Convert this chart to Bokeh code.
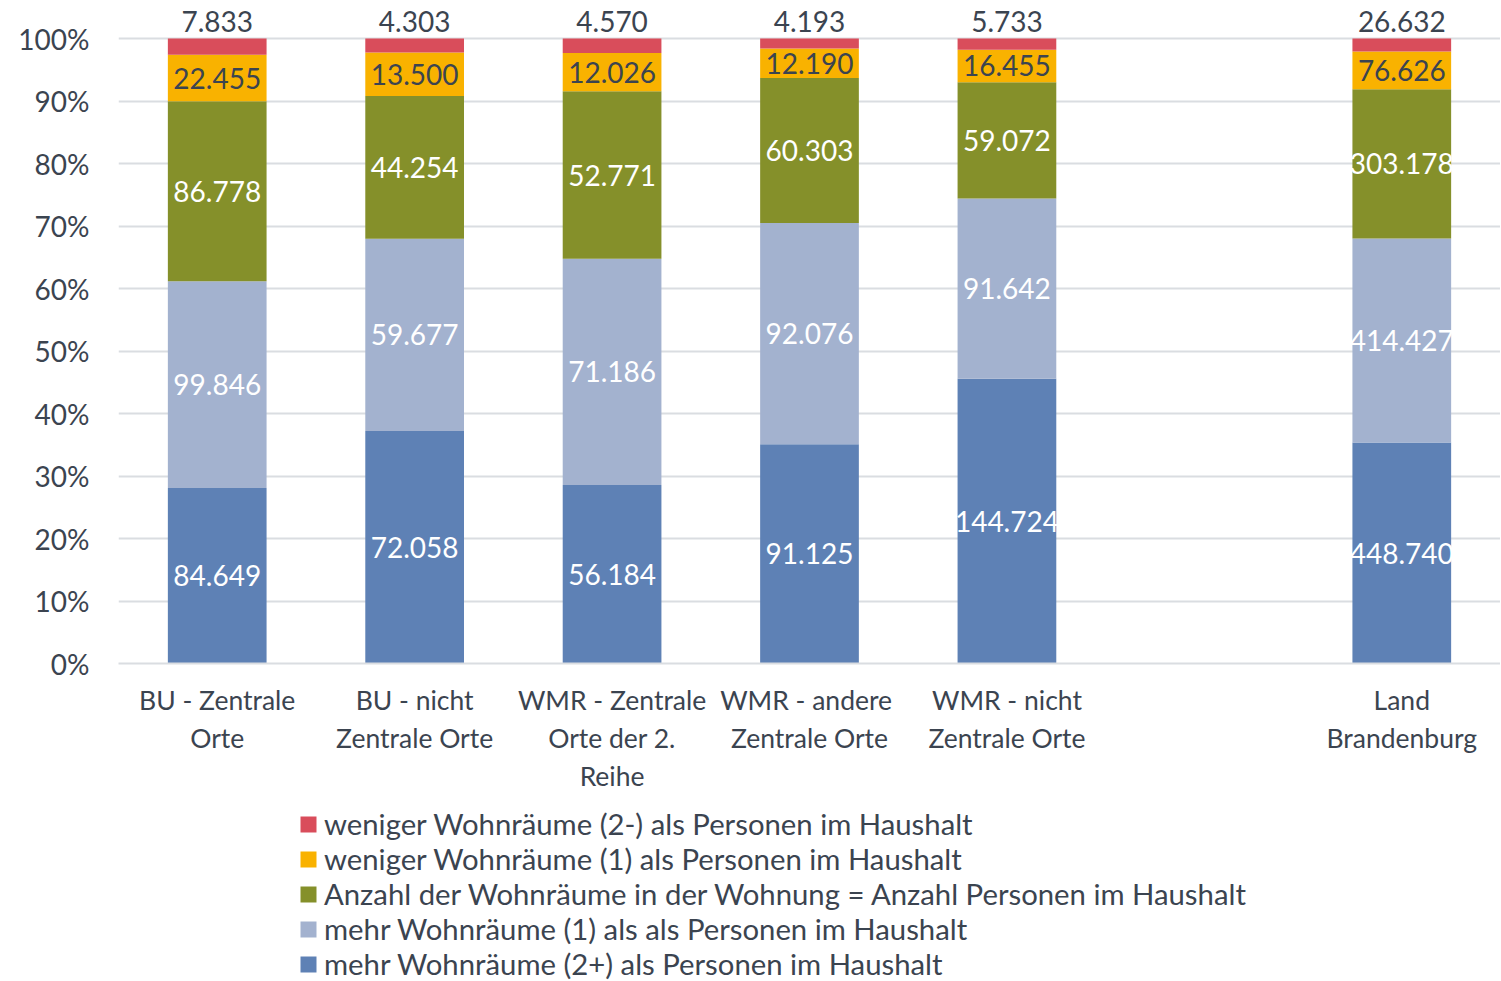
from bokeh.plotting import figure
from bokeh.layouts import column
from bokeh.models import (ColumnDataSource, Range1d, FactorRange, NumeralTickFormatter,
                          Legend, LegendItem, FixedTicker)
from bokeh.core.properties import value
from bokeh.embed import file_html
from bokeh.resources import INLINE

# ---- data ----
categories = ["BU - Zentrale\nOrte", "BU - nicht\nZentrale Orte",
              "WMR - Zentrale\nOrte der 2.\nReihe", "WMR  - andere\nZentrale Orte",
              "WMR - nicht\nZentrale Orte", "Land\nBrandenburg"]
slots = categories[:5] + [" "] + categories[5:]

mehr2 = [84649, 72058, 56184, 91125, 144724, 448740]
mehr1 = [99846, 59677, 71186, 92076, 91642, 414427]
gleich = [86778, 44254, 52771, 60303, 59072, 303178]
weniger1 = [22455, 13500, 12026, 12190, 16455, 76626]
weniger2 = [7833, 4303, 4570, 4193, 5733, 26632]

series_names = ["mehr Wohnräume (2+) als Personen im Haushalt",
                "mehr Wohnräume (1) als als Personen im Haushalt",
                "Anzahl der Wohnräume in der Wohnung = Anzahl Personen im Haushalt",
                "weniger Wohnräume (1) als Personen im Haushalt",
                "weniger Wohnräume (2-) als Personen im Haushalt"]
colors = ["#5E81B5", "#A3B2CF", "#85902A", "#F9B200", "#D94D5B"]
label_colors = ["white", "white", "white", "#3B4450", "#3B4450"]

FONT = "Lato"
TEXT = "#3B4450"
GRID = "#DADDE1"

series = [mehr2, mehr1, gleich, weniger1, weniger2]
totals = [sum(v) for v in zip(*series)]
keys = ["s0", "s1", "s2", "s3", "s4"]
data = {"cat": categories}
for k, s in zip(keys, series):
    data[k] = [v / t for v, t in zip(s, totals)]
src = ColumnDataSource(data)

def fmt(v):
    return f"{v:,}".replace(",", ".")

p = figure(x_range=FactorRange(factors=slots, range_padding=0, factor_padding=0),
           y_range=Range1d(0, 663 / 625), width=1500, height=806,
           output_backend="svg", toolbar_location=None,
           min_border_left=118, min_border_right=0, min_border_top=0, min_border_bottom=143)
p.outline_line_color = None
p.background_fill_color = "white"

renderers = p.vbar_stack(keys, x="cat", width=0.5, color=colors, line_color=None, source=src)

# segment labels
for i, (k, s) in enumerate(zip(keys, series)):
    xs, ys, txt = [], [], []
    for j, cat in enumerate(categories):
        below = sum(data[kk][j] for kk in keys[:i])
        share = data[k][j]
        xs.append(cat)
        if i == 4:
            ys.append(1.028)
        else:
            ys.append(below + share / 2)
        txt.append(fmt(s[j]))
    p.text(x=xs, y=ys, text=txt, text_align="center", text_baseline="middle",
           text_color=label_colors[i], text_font=value(FONT), text_font_size="28px")

# axes
p.yaxis.ticker = FixedTicker(ticks=[i / 10 for i in range(11)])
p.yaxis.formatter = NumeralTickFormatter(format="0%")
p.yaxis.axis_line_color = None
p.yaxis.major_tick_line_color = None
p.yaxis.minor_tick_line_color = None
p.yaxis.major_label_text_font = FONT
p.yaxis.major_label_text_font_size = "28px"
p.yaxis.major_label_text_color = TEXT
p.yaxis.major_label_standoff = 23

p.xaxis.axis_line_color = GRID
p.xaxis.axis_line_width = 2
p.xaxis.major_tick_line_color = None
p.xaxis.minor_tick_line_color = None
p.xaxis.major_label_text_font = FONT
p.xaxis.major_label_text_font_size = "26.5px"
p.xaxis.major_label_text_color = TEXT
p.xaxis.major_label_standoff = 14

p.xgrid.grid_line_color = None
p.ygrid.grid_line_color = GRID
p.ygrid.grid_line_width = 2

# legend in a strip below the chart (frames are aligned by the column layout)
lg = figure(width=1500, height=175, x_range=Range1d(0, 1), y_range=Range1d(0, 1),
            output_backend="svg", toolbar_location=None,
            min_border_left=0, min_border_right=0, min_border_top=0, min_border_bottom=0)
lg.axis.visible = False
lg.grid.visible = False
lg.outline_line_color = None
swatches = [lg.vbar(x=[0.5], top=[0], bottom=[0], width=0.01, fill_color=c, line_color=None)
            for c in colors]
items = [LegendItem(label=series_names[i], renderers=[swatches[i]]) for i in reversed(range(5))]
legend = Legend(items=items, location=(180, 0), orientation="vertical",
                label_text_font=FONT, label_text_font_size="29.3px", label_text_color=TEXT,
                glyph_width=20, glyph_height=20, label_height=35, spacing=0,
                padding=0, margin=0, border_line_color=None, background_fill_alpha=0,
                label_standoff=6)
lg.add_layout(legend, "center")

layout = column(p, lg, spacing=0)
open("out.html", "w").write(file_html(layout, INLINE))
